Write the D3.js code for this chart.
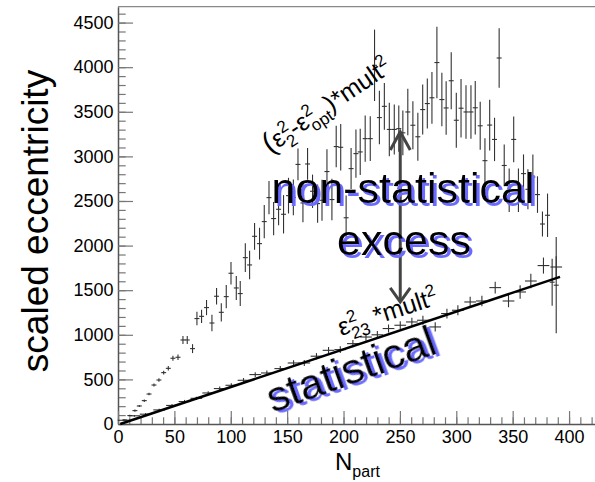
<!DOCTYPE html>
<html><head><meta charset="utf-8">
<script src="https://cdn.jsdelivr.net/npm/d3@7"></script>
<style>
html,body{margin:0;padding:0;background:#fff;}
svg text{font-family:"Liberation Sans",Arial,Helvetica,sans-serif;}
</style></head>
<body><svg id="c" width="595" height="482"></svg>
<script>
// ---- data ----
const upperN = [6,10.5,15,18.9,23.3,27.5,31.9,36.3,40.5,44.6,48.7,53.2,57.6,61.4,66.1,70,74.1,78.5,83.3,87.4,91.6,96,100.2,104.9,108.4,112.9,116.7,121.1,125.5,129.7,133.9,138,142.4,146.8,151.2,155.5,159.6,164,168.1,172.5,177,180.9,185.3,189.7,193.5,197.5,202.3,206.7,211,214.8,219.2,223.7,227.5,231.8,236.2,240.6,245,249,252.6,257,261.5,265.9,270.2,274.3,278.4,282.8,287.2,291,295.5,300,304.2,308.6,313,316.8,321.2,325.4,329.6,333.9,338,342.5,346.9,350.9,355.1,359.6,363.5,367.9,372,376.4,380.9,385,388.6];
const upperV = [45,95,150,202,262,336,437,493,576,624,737,748,942,942,845,1182,1207,1305,1132,1432,1252,1428,1690,1525,1462,1865,1783,2104,2022,2269,2538,2303,2407,2351,2560,2540,2910,2478,2915,2609,2471,2508,2830,2516,3110,3102,2312,2863,3031,3050,3199,3199,4021,3435,3561,3302,3302,3311,3264,3498,3349,3220,3525,3592,3657,4052,3637,3543,3848,3405,3540,3498,3498,3545,3343,2952,3351,3190,4103,2898,2620,3190,2620,2807,2631,2769,2572,2242,2340,1590,1556];
const upperErr = [8,10,12,12,14,15,18,20,22,25,28,30,45,45,50,75,75,85,93,93,103,130,125,135,140,160,160,150,178,187,187,187,178,215,200,200,178,215,178,187,215,230,250,233,233,260,250,230,270,260,260,250,400,300,262,300,280,260,250,260,270,270,280,280,290,400,300,300,320,308,327,300,300,300,270,250,284,243,333,234,243,256,243,215,224,252,205,140,243,263,540];

const lowerN = [5,14.5,24.5,36.5,47.9,59,69.5,80,90.2,100.5,111.3,121.7,132,143.9,155.7,165.2,176,186.7,197.1,208.3,219.9,230,239.9,250.3,260.6,270.4,281.3,291.7,301.4,312.3,322.7,334.5,346.3,356.6,366.1,377.3,388.6];
const lowerV = [42,92,110,158,208,252,288,348,397,434,490,554,572,621,684,684,760,826,834,901,975,1000,1070,1107,1144,1163,1088,1238,1275,1368,1379,1529,1379,1480,1603,1776,1760];
const lowerErr = [8,10,12,14,15,18,18,20,22,24,25,27,28,30,32,33,35,37,38,40,42,43,45,46,48,50,52,54,56,58,60,65,70,75,80,90,120];

const fitN = [2, 392];
const fitV = [0, 1650];

const xMajorTicks = [0,50,100,150,200,250,300,350,400];
const yMajorTicks = [0,500,1000,1500,2000,2500,3000,3500,4000,4500];

const upperHalfBin = 2.2, lowerHalfBin = 5.2;

// ---- drawing ----
const svg = d3.select("#c");
const defs = svg.append("defs");
const flt = defs.append("filter").attr("id", "blueShadow")
  .attr("x", "-10%").attr("y", "-20%").attr("width", "130%").attr("height", "150%");
flt.append("feOffset").attr("in", "SourceAlpha").attr("dx", 2.5).attr("dy", 2.5).attr("result", "off");
flt.append("feFlood").attr("flood-color", "#6a6aff").attr("result", "col");
flt.append("feComposite").attr("in", "col").attr("in2", "off").attr("operator", "in").attr("result", "sh");
const fm = flt.append("feMerge");
fm.append("feMergeNode").attr("in", "sh");
fm.append("feMergeNode").attr("in", "SourceGraphic");

const x = d3.scaleLinear().domain([0, 423]).range([118, 595]);
const y = d3.scaleLinear().domain([0, 4678]).range([424, 6.7]);

const axisCol = "#555", tickCol = "#777";

// frame top
svg.append("line").attr("x1", 118).attr("x2", 595).attr("y1", 6.7).attr("y2", 6.7)
  .attr("stroke", "#888").attr("stroke-width", 1.2);

// minor ticks
const yMinor = d3.range(0, 4678, 100);
const xMinor = d3.range(0, 423, 10);
svg.append("g").attr("transform", "translate(118,0)")
  .call(d3.axisLeft(y).tickValues(yMinor).tickSizeInner(-7.7).tickSizeOuter(0).tickFormat(""))
  .call(g => { g.select(".domain").remove(); g.selectAll("line").attr("stroke", tickCol).attr("stroke-width", 1.2); });
svg.append("g").attr("transform", "translate(0,424)")
  .call(d3.axisBottom(x).tickValues(xMinor).tickSizeInner(-6.7).tickSizeOuter(0).tickFormat(""))
  .call(g => { g.select(".domain").remove(); g.selectAll("line").attr("stroke", tickCol).attr("stroke-width", 1.2); });

// major axes
const yAx = svg.append("g").attr("transform", "translate(118,0)")
  .call(d3.axisLeft(y).tickValues(yMajorTicks).tickFormat(d3.format("d")).tickSizeInner(-15).tickSizeOuter(0).tickPadding(4.5));
yAx.select(".domain").attr("stroke", axisCol).attr("stroke-width", 1.5);
yAx.selectAll("line").attr("stroke", tickCol).attr("stroke-width", 1.2);
yAx.selectAll("text").attr("font-size", 18).attr("fill", "#000").style("font-family", "Liberation Sans, Arial, sans-serif");

const xAx = svg.append("g").attr("transform", "translate(0,424)")
  .call(d3.axisBottom(x).tickValues(xMajorTicks).tickFormat(d3.format("d")).tickSizeInner(-13).tickSizeOuter(0).tickPadding(6));
xAx.select(".domain").attr("stroke", axisCol).attr("stroke-width", 1.5);
xAx.selectAll("line").attr("stroke", tickCol).attr("stroke-width", 1.2);
xAx.selectAll("text").attr("font-size", 18).attr("fill", "#000").style("font-family", "Liberation Sans, Arial, sans-serif");

// axis titles
svg.append("text").attr("transform", "translate(48,221) rotate(-90)")
  .attr("text-anchor", "middle").attr("font-size", 37).text("scaled eccentricity");
const xt = svg.append("text").attr("x", 335).attr("y", 470).attr("font-size", 24);
xt.append("tspan").text("N");
xt.append("tspan").attr("font-size", 16).attr("dy", 7).text("part");

// upper series
const upper = upperN.map((n, i) => ({n, v: upperV[i], e: upperErr[i]}));
const ug = svg.append("g").attr("stroke", "#333").attr("stroke-width", 1.1);
ug.selectAll("line.v").data(upper).join("line")
  .attr("x1", d => x(d.n)).attr("x2", d => x(d.n))
  .attr("y1", d => y(d.v - d.e)).attr("y2", d => y(d.v + d.e));
ug.selectAll("line.h").data(upper).join("line")
  .attr("x1", d => x(d.n - upperHalfBin)).attr("x2", d => x(d.n + upperHalfBin))
  .attr("y1", d => y(d.v)).attr("y2", d => y(d.v));

// lower series
const lower = lowerN.map((n, i) => ({n, v: lowerV[i], e: lowerErr[i]}));
const lg = svg.append("g").attr("stroke", "#333").attr("stroke-width", 1.1);
lg.selectAll("line.v").data(lower).join("line")
  .attr("x1", d => x(d.n)).attr("x2", d => x(d.n))
  .attr("y1", d => y(d.v - d.e)).attr("y2", d => y(d.v + d.e));
lg.selectAll("line.h").data(lower).join("line")
  .attr("x1", d => x(d.n - lowerHalfBin)).attr("x2", d => x(d.n + lowerHalfBin))
  .attr("y1", d => y(d.v)).attr("y2", d => y(d.v));

// fit line
svg.append("path").datum(fitN.map((n, i) => [n, fitV[i]]))
  .attr("d", d3.line().x(d => x(d[0])).y(d => y(d[1])))
  .attr("stroke", "#000").attr("stroke-width", 2.5).attr("fill", "none");

// arrow
const aN = 250.3, aTop = 3274, aBot = 1368;
const ax = x(aN), ay1 = y(aTop), ay2 = y(aBot);
const arr = svg.append("g").attr("stroke", "#444").attr("stroke-width", 3).attr("fill", "none");
arr.append("line").attr("x1", ax).attr("x2", ax).attr("y1", ay1).attr("y2", ay2);
arr.append("polyline").attr("points", `${ax-10},${ay1+18} ${ax},${ay1} ${ax+10},${ay1+18}`);
arr.append("polyline").attr("points", `${ax-10},${ay2-14} ${ax},${ay2} ${ax+10},${ay2-14}`);

// shadowed text (single element with blue drop shadow)
function shadowText(tr, txt, size) {
  svg.append("text").attr("transform", tr).attr("text-anchor", "middle")
    .attr("font-size", size).attr("fill", "#000").attr("filter", "url(#blueShadow)").text(txt);
}
shadowText("translate(403,203)", "non-statistical", 43);
shadowText("translate(404,255)", "excess", 43);
shadowText("translate(356,383) rotate(-20)", "statistical", 43);

// annotation 1
const a1 = svg.append("text").attr("transform", "translate(270,154) rotate(-34)").attr("font-size", 25);
a1.append("tspan").attr("font-size", 29).text("(");
a1.append("tspan").text("ε");
a1.append("tspan").attr("font-size", 17).attr("dy", -10).text("2");
a1.append("tspan").attr("font-size", 17).attr("dx", -9.4).attr("dy", 17).text("2");
a1.append("tspan").attr("dy", -7).text("-ε");
a1.append("tspan").attr("font-size", 17).attr("dy", -10).text("2");
a1.append("tspan").attr("font-size", 17).attr("dx", -9.4).attr("dy", 17).text("opt");
a1.append("tspan").attr("dy", -7).text(")*mult");
a1.append("tspan").attr("font-size", 17).attr("dy", -10).text("2");

// annotation 2
const a2 = svg.append("text").attr("transform", "translate(341,336) rotate(-18)").attr("font-size", 25);
a2.append("tspan").text("ε");
a2.append("tspan").attr("font-size", 17).attr("dy", -10).text("2");
a2.append("tspan").attr("font-size", 17).attr("dx", -9.4).attr("dy", 17).text("23");
a2.append("tspan").attr("dy", -7).text(" *mult");
a2.append("tspan").attr("font-size", 17).attr("dy", -10).text("2");
</script>
</body></html>
